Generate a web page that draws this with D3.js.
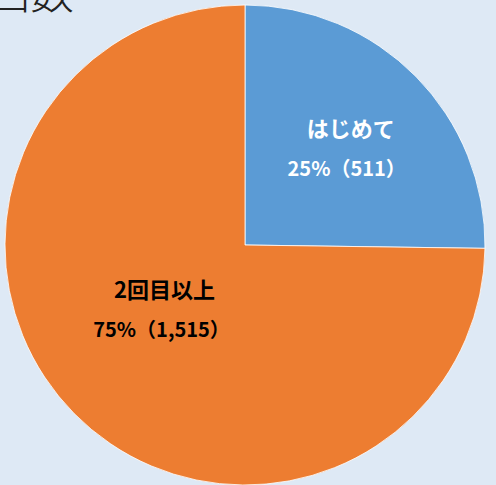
<!DOCTYPE html>
<html>
<head>
<meta charset="utf-8">
<script src="https://cdn.jsdelivr.net/npm/d3@7/dist/d3.min.js"></script>
<style>
  html, body { margin: 0; padding: 0; background: #dee9f5; }
  svg { display: block; }
</style>
</head>
<body>
<div id="chart"></div>
<script>
// data
const categories = ["はじめて", "2回目以上"];
const counts = [511, 1515];
const countLabels = ["511", "1,515"];
const title = "回数";

const width = 496;
const height = 485;
const cx = 245, cy = 245, radius = 240;
const colors = ["#5b9bd5", "#ed7d31"];
const textColors = ["#ffffff", "#000000"];
const labelRadius = 140 / 240;
// small per-slice nudges for the label block (Excel "best fit" placement)
const labelNudge = [[2, 2], [-8, -9]];
const nameShift = [4, 3];

const svg = d3.select("#chart")
  .append("svg")
  .attr("width", width)
  .attr("height", height)
  .style("font-family", "'Noto Sans CJK JP', 'Noto Sans', sans-serif");

svg.append("rect")
  .attr("width", width)
  .attr("height", height)
  .attr("fill", "#dee9f5");

// title (cut off at top-left, as in the original)
svg.append("text")
  .attr("x", -14)
  .attr("y", 9)
  .attr("font-size", 44)
  .attr("font-weight", 300)
  .attr("fill", "#222")
  .text(title);

const data = categories.map((c, i) => ({ name: c, value: counts[i], label: countLabels[i], i }));
const total = d3.sum(counts);

const pie = d3.pie().value(d => d.value).sort(null);
const arc = d3.arc().innerRadius(0).outerRadius(radius);

const g = svg.append("g").attr("transform", `translate(${cx},${cy})`);

const slices = pie(data);

g.selectAll("path")
  .data(slices)
  .enter()
  .append("path")
  .attr("d", arc)
  .attr("fill", d => colors[d.data.i])
  .attr("stroke", "#ffffff")
  .attr("stroke-width", 0.8);

// labels
slices.forEach(d => {
  const i = d.data.i;
  const r = radius * (i === 0 ? labelRadius : 106 / 240);
  const a = (d.startAngle + d.endAngle) / 2;
  const x = Math.sin(a) * r + labelNudge[i][0];
  const y = -Math.cos(a) * r + labelNudge[i][1];
  const pct = Math.round(d.data.value / total * 100) + "%（" + d.data.label + "）";
  const col = textColors[i];
  g.append("text")
    .attr("x", x + nameShift[i])
    .attr("y", y - 12)
    .attr("text-anchor", "middle")
    .attr("font-size", 22)
    .attr("font-weight", "bold")
    .attr("fill", col)
    .text(d.data.name);
  g.append("text")
    .attr("x", x)
    .attr("y", y + 27)
    .attr("text-anchor", "middle")
    .attr("font-size", 20)
    .attr("font-weight", "bold")
    .attr("fill", col)
    .text(pct);
});
</script>
</body>
</html>
